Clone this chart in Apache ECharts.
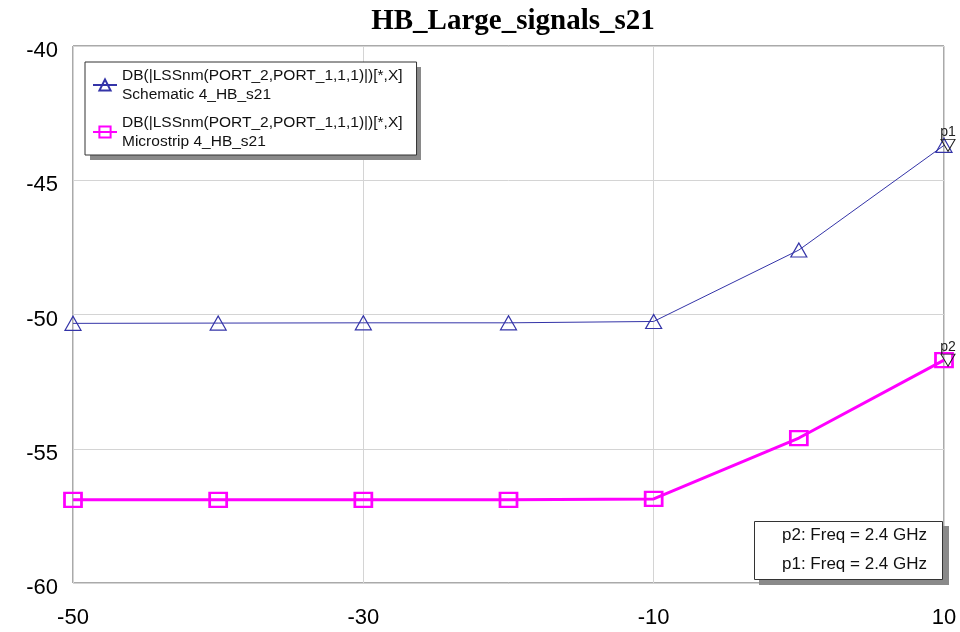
<!DOCTYPE html>
<html>
<head>
<meta charset="utf-8">
<script src="https://cdn.jsdelivr.net/npm/echarts@6/dist/echarts.min.js"></script>
<style>
  html, body { margin: 0; padding: 0; background: #fff; }
  #chart { width: 960px; height: 632px; }
</style>
</head>
<body>
<div id="chart"></div>
<script>
// Sweep variable X (input power) and s21 in dB for each simulation
const xValues = [-50, -40, -30, -20, -10, 0, 10];
const schematicS21 = [-50.33, -50.32, -50.31, -50.31, -50.26, -47.6, -43.7];
const microstripS21 = [-56.9, -56.9, -56.9, -56.9, -56.87, -54.6, -51.7];
const exprName = 'DB(|LSSnm(PORT_2,PORT_1,1,1)|)[*,X]';
const schematicName = 'Schematic 4_HB_s21';
const microstripName = 'Microstrip 4_HB_s21';
const markerLines = ['p2: Freq = 2.4 GHz', 'p1: Freq = 2.4 GHz'];

const pairs = (ys) => xValues.map((x, i) => [x, ys[i]]);
const lastIdx = xValues.length - 1;

// flat drop shadow drawn behind a boxed panel
const dropShadow = (x, y, w, h) => ({
  type: 'rect', z: 90, silent: true,
  shape: { x: x + 5, y: y + 5, width: w, height: h },
  style: { fill: '#8a8a8a' }
});

const markerStyle = (name) => ({
  symbol: 'triangle',
  symbolRotate: 180,
  symbolSize: [14, 12],
  symbolOffset: [4, 0],
  itemStyle: { color: 'rgba(0,0,0,0)', borderColor: '#222', borderWidth: 1 },
  label: { show: true, position: 'top', distance: 0, formatter: name, fontFamily: 'Liberation Sans', fontSize: 14, color: '#222' }
});

const chart = echarts.init(document.getElementById('chart'));
chart.setOption({
  animation: false,
  backgroundColor: '#fff',
  graphic: [dropShadow(85, 62, 331, 93), dropShadow(754, 521, 190, 59)],
  title: [{
    text: 'HB_Large_signals_s21',
    left: 508,
    textAlign: 'center',
    top: 2,
    textStyle: { fontFamily: 'Liberation Serif', fontWeight: 'bold', fontSize: 29, color: '#000' }
  }, {
    text: markerLines.join('\n'),
    left: 754,
    top: 521,
    padding: [0, 16, 1, 28],
    backgroundColor: '#fff',
    borderColor: '#333',
    borderWidth: 1,
    z: 100,
    textStyle: { fontFamily: 'Liberation Sans', fontWeight: 'normal', fontSize: 17, lineHeight: 29, color: '#111' }
  }],
  legend: {
    orient: 'vertical',
    left: 85,
    top: 62,
    padding: [4, 14, 4, 7],
    itemGap: 9,
    itemWidth: 24,
    itemHeight: 14,
    backgroundColor: '#fff',
    borderColor: '#333',
    borderWidth: 1,
    z: 100,
    textStyle: { fontFamily: 'Liberation Sans', fontSize: 15.5, lineHeight: 19, color: '#111' },
    formatter: (name) => exprName + '\n' + name,
    data: [schematicName, microstripName]
  },
  grid: {
    left: 73, right: 16, top: 46, bottom: 49,
    show: true, borderColor: '#555', borderWidth: 1
  },
  xAxis: {
    type: 'value',
    min: -50, max: 10, interval: 20,
    axisLine: { show: false },
    axisTick: { show: false },
    splitLine: { show: true, lineStyle: { color: '#d4d4d4', width: 1 } },
    axisLabel: { fontFamily: 'Liberation Sans', fontSize: 22, color: '#000', margin: 24 }
  },
  yAxis: {
    type: 'value',
    min: -60, max: -40, interval: 5,
    axisLine: { show: false },
    axisTick: { show: false },
    splitLine: { show: true, lineStyle: { color: '#d4d4d4', width: 1 } },
    axisLabel: {
      fontFamily: 'Liberation Sans', fontSize: 22, color: '#000', margin: 15,
      verticalAlign: 'top', lineHeight: 10
    }
  },
  series: [{
    name: schematicName,
    type: 'line',
    data: pairs(schematicS21),
    symbol: 'triangle',
    symbolSize: [16, 14],
    showAllSymbol: true,
    lineStyle: { color: '#3434a8', width: 1 },
    itemStyle: { color: 'rgba(255,255,255,0)', borderColor: '#3434a8', borderWidth: 1.2 },
    markPoint: Object.assign(markerStyle('p1'), {
      data: [{ coord: [xValues[lastIdx], schematicS21[lastIdx]] }]
    }),
    z: 3
  }, {
    name: microstripName,
    type: 'line',
    data: pairs(microstripS21),
    symbol: 'rect',
    symbolSize: [17, 14],
    showAllSymbol: true,
    lineStyle: { color: '#ff00ff', width: 3 },
    itemStyle: { color: 'rgba(255,255,255,0)', borderColor: '#ff00ff', borderWidth: 2.5 },
    markPoint: Object.assign(markerStyle('p2'), {
      data: [{ coord: [xValues[lastIdx], microstripS21[lastIdx]] }]
    }),
    z: 3
  }]
});
</script>
</body>
</html>
